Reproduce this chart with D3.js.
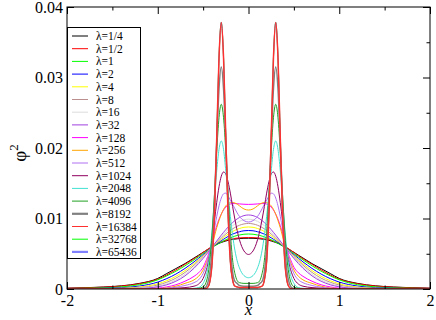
<!DOCTYPE html>
<html>
<head>
<meta charset="utf-8">
<script src="https://cdn.jsdelivr.net/npm/d3@7"></script>
<style>
  body { margin: 0; background: #fff; }
  svg { display: block; }
  svg text { font-family: 'Liberation Serif', 'DejaVu Serif', serif; }
</style>
</head>
<body>
<svg id="chart" width="436" height="320"></svg>
<script>
// x >= 0 half of each curve, the picture is symmetric around x = 0
const xGrid = [0, 0.05, 0.1, 0.125, 0.15, 0.175, 0.2, 0.225, 0.25, 0.275, 0.3, 0.325, 0.35, 0.375, 0.4,
    0.425, 0.45, 0.475, 0.5, 0.55, 0.6, 0.7, 0.8, 0.9, 1.0, 1.2, 1.4, 1.6, 1.8, 2.0];

const lambdaLabels = ["1/4", "1/2", "1", "2", "4", "8", "16", "32", "128", "256", "512",
    "1024", "2048", "4096", "8192", "16384", "32768", "65436"];

const lambdaColors = ["#000000", "#ff0000", "#00ff00", "#0000ff", "#ffff00", "#bc8f8f", "#dcdcdc",
    "#a040e0", "#ff00ff", "#ffa500", "#b070f0", "#900060", "#40e0d0", "#20a020", "#808080",
    "#ff3030", "#00ff00", "#8080ff"];

const phi_1_4 = [.0072, .00719, .00715, .00712, .00708, .00703, .00697, .0069, .00681, .00671, .0066, .00648,
    .00635, .0062, .006, .0058, .0056, .0054, .0052, .0048, .0044, .0036, .0029, .0022, .0015, .0008, .00045,
    .00028, .00018, .00012];
const phi_1_2 = [.0073, .00729, .00725, .00722, .00718, .00713, .00706, .00698, .00689, .00679, .00668, .00655,
    .00641, .00625, .00605, .00585, .00563, .00541, .0052, .0047, .0043, .0035, .0027, .002, .0014, .00075, .00042,
    .00026, .00016, .0001];
const phi_1 = [.0078, .00777, .00766, .00759, .0075, .00739, .00727, .00713, .00699, .00683, .00666, .00647,
    .00628, .00609, .00588, .00567, .00546, .00524, .00502, .00458, .00413, .00329, .00252, .00187, .0013, .00062,
    .0003, .00016, .0001, .00006];
const phi_2 = [.0083, .00826, .00812, .00803, .00791, .00778, .00762, .00745, .00726, .00706, .00685, .00663,
    .00639, .00615, .0059, .00565, .00539, .00513, .00487, .00436, .00385, .00292, .00212, .00148, .00098, .00042,
    .00018, .0001, .00006, .00004];
const phi_4 = [.0088, .00875, .00858, .00847, .00832, .00816, .00797, .00776, .00754, .00729, .00704, .00677,
    .00649, .00621, .00592, .00562, .00532, .00503, .00473, .00415, .0036, .00261, .0018, .00118, .00074, .00028,
    .0001, .00005, .00003, .00002];
const phi_8 = [.0093, .00923, .00904, .0089, .00873, .00853, .00831, .00807, .0078, .00752, .00722, .00691,
    .00659, .00627, .00593, .0056, .00527, .00494, .00461, .00398, .00338, .00235, .00154, .00096, .00056, .0002,
    .00008, .00004, .00002, .00001];
const phi_16 = [.0099, .00982, .00959, .00942, .00922, .00898, .00872, .00843, .00811, .00778, .00744, .00708,
    .00671, .00633, .00595, .00557, .0052, .00483, .00447, .00378, .00315, .00208, .00129, .00075, .00041, .00012,
    .00003, .00001, 0, 0];
const phi_32 = [.0105, .01041, .01014, .00994, .0097, .00942, .00912, .00878, .00842, .00804, .00764, .00723,
    .00681, .00639, .00597, .00555, .00514, .00473, .00434, .00361, .00295, .00186, .0011, .0006, .00031, .00008,
    .00002, 0, 0, 0];
const phi_128 = [.012, .01202, .01207, .0121, .01212, .01212, .01205, .0119, .01162, .0112, .01062, .0099,
    .009, .0079, .0067, .0056, .0046, .0038, .0031, .0023, .0018, .0011, .0006, .0003, .00012, .00002, 0, 0, 0, 0];
const phi_256 = [.0112, .01135, .0118, .01205, .0122, .01228, .01225, .0121, .0118, .0113, .0106, .0097,
    .0087, .0075, .0063, .0052, .0042, .0034, .0027, .0018, .0013, .0008, .0004, .00015, .00006, 0, 0, 0, 0, 0];
const phi_512 = [.0095, .0097, .0103, .0108, .0114, .012, .0126, .0132, .0136, .0135, .0129, .0118,
    .0103, .0086, .0068, .0053, .004, .003, .0022, .0013, .0009, .0005, .00025, .0001, .00003, 0, 0, 0, 0, 0];
const phi_1024 = [.0049, .0054, .007, .0083, .0099, .0117, .0136, .0152, .0163, .0166, .016, .0145,
    .0123, .0097, .0071, .005, .0034, .0023, .0015, .0007, .0004, .0002, .0001, .00003, 0, 0, 0, 0, 0, 0];
const phi_2048 = [.0016, .0019, .003, .004, .0055, .0076, .0103, .0135, .0167, .0198, .021, .0198,
    .0168, .0127, .0085, .0051, .0028, .0015, .0008, .0002, .0001, .00003, 0, 0, 0, 0, 0, 0, 0, 0];
const phi_4096 = [.0008, .0008, .0009, .0012, .0022, .0041, .008, .0135, .0195, .0243, .0262, .0243,
    .0195, .0135, .008, .0041, .0018, .0007, .0003, .0001, .00005, 0, 0, 0, 0, 0, 0, 0, 0, 0];
const phi_8192 = [.0004, .0004, .0005, .0008, .0011, .0024, .006, .0124, .0208, .0284, .0315, .0284,
    .0208, .0124, .006, .0024, .0008, .0002, .00004, 0, 0, 0, 0, 0, 0, 0, 0, 0, 0, 0];
const phi_16384 = [.0002, .0002, .0002, .0003, .0004, .0013, .0039, .0106, .0215, .0328, .0378, .0328,
    .0215, .0106, .0039, .0011, .00023, .00004, 0, 0, 0, 0, 0, 0, 0, 0, 0, 0, 0, 0];
// the two largest lambdas lie under the lambda=16384 curve in the picture
const phi_32768 = phi_16384;
const phi_65436 = phi_16384;

const phiSeries = [phi_1_4, phi_1_2, phi_1, phi_2, phi_4, phi_8, phi_16, phi_32, phi_128, phi_256,
    phi_512, phi_1024, phi_2048, phi_4096, phi_8192, phi_16384, phi_32768, phi_65436];

const xTicks = [-2, -1, 0, 1, 2];
const yTicks = [0, 0.01, 0.02, 0.03, 0.04];

function mirror(ys) {
    const pts = [];
    for (let i = xGrid.length - 1; i > 0; i--) pts.push([-xGrid[i], ys[i]]);
    for (let i = 0; i < xGrid.length; i++) pts.push([xGrid[i], ys[i]]);
    return pts;
}

function drawChart() {
    const svg = d3.select("#chart");
    const left = 67, right = 430, top = 7, bottom = 289;
    const serif = "'Liberation Serif', 'DejaVu Serif', serif";

    const x = d3.scaleLinear().domain([-2, 2]).range([left, right]);
    const y = d3.scaleLinear().domain([0, 0.04]).range([bottom, top]);

    const series = phiSeries.map((ys, i) => ({
        label: "λ=" + lambdaLabels[i],
        color: lambdaColors[i],
        width: (i === 14 || i === 15) ? 1.5 : 1,
        legendWidth: (i === 14 || i === 17) ? 2.2 : 1,
        points: mirror(ys)
    }));

    const line = d3.line()
        .x(d => x(d[0]))
        .y(d => y(d[1]))
        .curve(d3.curveMonotoneX);

    svg.append("clipPath").attr("id", "plotClip")
        .append("rect")
        .attr("x", left).attr("y", top)
        .attr("width", right - left).attr("height", bottom - top);

    // largest two first so the lambda=16384 curve sits on top like in the picture
    const order = [16, 17].concat(d3.range(0, 16));
    svg.append("g")
        .attr("clip-path", "url(#plotClip)")
        .selectAll("path")
        .data(order.map(i => series[i]))
        .enter().append("path")
        .attr("d", d => line(d.points))
        .attr("fill", "none")
        .attr("stroke", d => d.color)
        .attr("stroke-width", d => d.width);

    // axes, ticks pointing inward on all four sides
    const fmt = d => String(d);
    const xMinor = d3.range(-1.5, 2, 1);
    const yMinor = d3.range(0.005, 0.04, 0.01);

    function axisPair(axisFn, scale, major, minor, pos, isX, padding) {
        const g = svg.append("g")
            .attr("transform", isX ? "translate(0," + pos + ")" : "translate(" + pos + ",0)");
        g.call(axisFn(scale).tickValues(major).tickSize(-7).tickPadding(padding)
            .tickFormat(padding ? fmt : ""));
        g.append("g").call(axisFn(scale).tickValues(minor).tickSize(-3.5).tickFormat(""));
        g.attr("font-family", null);
        g.selectAll("g").attr("font-family", null);
        g.selectAll(".domain").remove();
        g.selectAll("line").attr("stroke", "#000");
        g.selectAll("text")
            .attr("font-size", 16)
            .style("font-family", serif)
            .attr("fill", "#000");
        return g;
    }

    axisPair(d3.axisBottom, x, xTicks, xMinor, bottom, true, 6);
    axisPair(d3.axisTop, x, xTicks, xMinor, top, true, 0);
    axisPair(d3.axisLeft, y, yTicks, yMinor, left, false, 4);
    axisPair(d3.axisRight, y, yTicks, yMinor, right, false, 0);

    svg.append("rect")
        .attr("x", left).attr("y", top)
        .attr("width", right - left).attr("height", bottom - top)
        .attr("fill", "none").attr("stroke", "#000").attr("stroke-width", 1);

    // axis titles
    svg.append("text")
        .attr("x", (left + right) / 2).attr("y", 315)
        .attr("text-anchor", "middle")
        .style("font-family", serif)
        .attr("font-size", 17).attr("font-style", "italic")
        .text("x");

    const yTitle = svg.append("text")
        .attr("transform", "translate(26,153) rotate(-90)")
        .attr("text-anchor", "middle")
        .style("font-family", serif)
        .attr("font-size", 19);
    yTitle.append("tspan").text("φ");
    yTitle.append("tspan").attr("dy", -8).attr("font-size", 13).text("2");

    // legend
    const legendRow = 12.7;
    const legend = svg.append("g").attr("class", "legend").attr("transform", "translate(67,27)");
    legend.append("rect")
        .attr("x", 0.5).attr("y", 0.5)
        .attr("width", 73).attr("height", 231)
        .attr("fill", "#fff").attr("stroke", "#000");

    const item = legend.selectAll("g.item")
        .data(series)
        .enter().append("g")
        .attr("class", "item")
        .attr("transform", (d, i) => "translate(0," + (9 + i * legendRow) + ")");

    item.append("line")
        .attr("x1", 5).attr("x2", 21)
        .attr("stroke", d => d.color)
        .attr("stroke-width", d => d.legendWidth);

    item.append("text")
        .attr("x", 29).attr("dy", "0.35em")
        .style("font-family", serif)
        .attr("font-size", 11.5)
        .text(d => d.label);
}

drawChart();
</script>
</body>
</html>
